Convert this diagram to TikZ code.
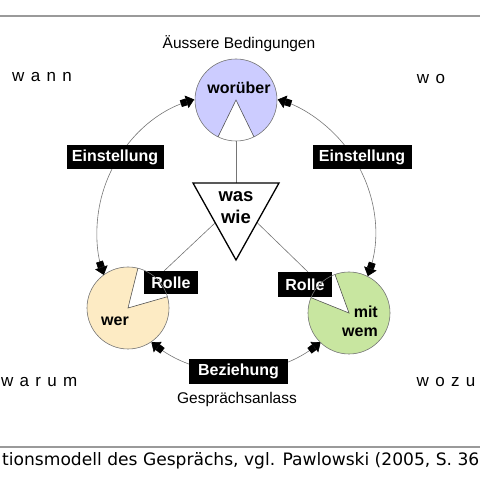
\documentclass[tikz,border=0pt]{standalone}
\usepackage{fontspec}
\setmainfont{Liberation Sans}
\newfontfamily\capfont{DejaVu Sans}
\usetikzlibrary{arrows.meta,calc}
\definecolor{lav}{HTML}{CCCCFF}
\definecolor{cream}{HTML}{FDEBC4}
\definecolor{lgreen}{HTML}{C8E6A0}
\definecolor{rim}{HTML}{757575}
\definecolor{edge}{HTML}{555555}
\definecolor{rule}{HTML}{9A9A9A}
\tikzset{
  lbl/.style={font=\fontsize{16}{19}\selectfont\bfseries, inner sep=0pt},
  plain/.style={font=\fontsize{15.5}{17}\selectfont, inner sep=0pt},
  blackbox/.style={fill=black, text=white, font=\fontsize{16}{17}\selectfont\bfseries, minimum height=24pt, inner sep=0pt},
  conn/.style={draw=rim, line width=0.6pt},
  fat/.style={conn, {Triangle[length=8pt,width=13pt,color=black,sep=0pt] Rectangle[length=6pt,width=7pt,color=black,sep=0pt]}-{Rectangle[length=6pt,width=7pt,color=black,sep=0pt] Triangle[length=8pt,width=13pt,color=black,sep=0pt]}},
  rimline/.style={draw=rim, line width=0.6pt},
  sliceedge/.style={draw=edge, line width=0.6pt},
  corner/.style={font=\fontsize{17}{19}\selectfont, inner sep=0pt},
}
\newcommand{\gp}{\hspace{0.37em}}
\begin{document}
\begin{tikzpicture}[x=1pt,y=1pt]
\useasboundingbox (0,0) rectangle (480,480);
\clip (0,0) rectangle (480,480);

% rules
\draw[rule, line width=1.4pt] (0,464) -- (480,464);
\draw[rule, line width=1.4pt] (0,33) -- (480,33);

% centre of big circle
\coordinate (C) at (236,248);

% circle nodes
\node[circle, minimum size=82pt, inner sep=0pt] (top) at (236,380) {};
\node[circle, minimum size=82pt, inner sep=0pt] (wer) at (128,172) {};
\node[circle, minimum size=82pt, inner sep=0pt] (mit) at (349,167) {};

% pies
\fill[lav] (top.center) -- ++(296:41) arc[start angle=296, end angle=604, radius=41] -- cycle;
\fill[cream] (wer.center) -- ++(76:41) arc[start angle=76, end angle=376, radius=41] -- cycle;
\fill[lgreen] (mit.center) -- ++(158:41) arc[start angle=158, end angle=470, radius=41] -- cycle;

% triangle
\coordinate (tTL) at (193,297);
\coordinate (tTR) at (279,297);
\coordinate (tB) at (236,220);
\coordinate (tTop) at (236,297);
\coordinate (tL) at (215,257);
\coordinate (tR) at (257,257.5);
\coordinate (rL) at (164,209);
\coordinate (rR) at (308,208);

% connectors centre
\draw[conn] (top) -- (tTop);
\draw[conn] (tL) -- (rL);
\draw[conn] (tR) -- (rR);

\draw[black, line width=1.3pt, line join=miter] (tTL) -- (tTR) -- (tB) -- cycle;
\node[align=center, font=\fontsize{18.5}{22}\selectfont\bfseries, inner sep=0pt] (was) at (236,272) {was\\wie};

% big arcs
\draw[fat] ($(C)+(107.5:139)$) arc[start angle=107.5, end angle=198, radius=139];
\draw[fat] ($(C)+(232.5:139)$) arc[start angle=232.5, end angle=307.5, radius=139];
\draw[fat] ($(C)+(341.5:139)$) arc[start angle=341.5, end angle=432.5, radius=139];

% boxes
\node[blackbox, minimum width=97pt] (einL) at (115,323) {Einstellung};
\node[blackbox, minimum width=99pt] (einR) at (362,323) {Einstellung};
\node[blackbox, minimum width=99pt, minimum height=25pt] (bez) at (238.5,108.5) {Beziehung};
\node[blackbox, minimum width=54pt, minimum height=23pt] (rolL) at (171,197.5) {Rolle};
\node[blackbox, minimum width=54pt, minimum height=25pt] (rolR) at (305,195.5) {Rolle};

% circle outlines and slice edges
\draw[rimline] (top.center) circle[radius=41];
\draw[rimline] (wer.center) circle[radius=41];
\draw[rimline] (mit.center) circle[radius=41];
\draw[sliceedge] ($(top.center)+(244:41)$) -- (top.center) -- ++(296:41);
\draw[sliceedge] ($(wer.center)+(16:41)$) -- (wer.center) -- ++(76:41);
\draw[sliceedge] ($(mit.center)+(110:41)$) -- (mit.center) -- ++(158:41);

% circle labels
\node[lbl] (lworueber) at (239,392) {worüber};
\node[lbl] (lwer) at (115,159) {wer};
\node[lbl, align=right, anchor=east] (lmit) at (378,158.5) {mit\\wem};

% plain labels
\node[plain] (aeuss) at (239,436) {Äussere Bedingungen};
\node[plain] (anlass) at (237,81) {Gesprächsanlass};

% corner words
\node[corner] (wann) at (42,403) {w\gp a\gp n\gp n};
\node[corner] (wo) at (431,401) {w\gp o};
\node[corner, anchor=west] (warum) at (1,98) {w\gp a\gp r\gp u\gp m};
\node[corner] (wozu) at (446,98) {w\gp o\gp z\gp u};

% caption
\node[font=\capfont\fontsize{17.1}{20}\selectfont, anchor=base west, inner sep=0pt] (cap) at (2,15) {tionsmodell des Gesprächs, vgl. Pawlowski (2005, S. 36};
\end{tikzpicture}
\end{document}
